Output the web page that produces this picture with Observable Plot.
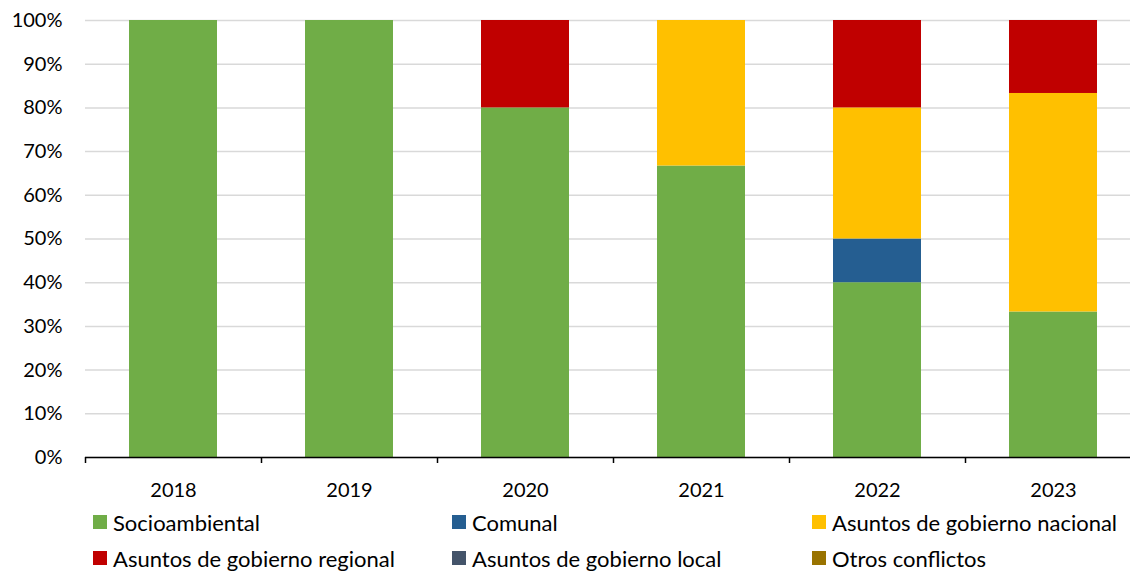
<!DOCTYPE html>
<html>
<head>
<meta charset="utf-8">
<script src="https://cdn.jsdelivr.net/npm/d3@7"></script>
<script src="https://cdn.jsdelivr.net/npm/@observablehq/plot@0.6"></script>
<style>
  html, body { margin: 0; padding: 0; background: #fff; overflow: hidden; }
  body { width: 1130px; height: 571px; font-family: Lato, "Open Sans", sans-serif; }
  #chart { width: 1130px; overflow: hidden; }
  #chart svg { display: block; max-width: none !important; }
  #legend {
    display: grid;
    grid-template-columns: 359px 360px 320px;
    row-gap: 14px;
    padding-left: 93px;
    margin-top: 11px;
    font-size: 22px;
    color: #000;
  }
  .item { display: flex; align-items: center; height: 22px; white-space: nowrap; }
  .sw { width: 14px; height: 14px; margin-right: 6px; flex: none; }
</style>
</head>
<body>
<div id="chart"></div>
<div id="legend"></div>
<script>
const years = ["2018", "2019", "2020", "2021", "2022", "2023"];
const categories = [
  "Socioambiental",
  "Comunal",
  "Asuntos de gobierno nacional",
  "Asuntos de gobierno regional",
  "Asuntos de gobierno local",
  "Otros conflictos"
];
const colors = ["#70AD47", "#255E91", "#FFC000", "#C00000", "#44546A", "#997300"];

// share of conflicts (%) per year
const socioambiental = [100, 100, 80, 66.7, 40, 33.3];
const comunal        = [0, 0, 0, 0, 10, 0];
const nacional       = [0, 0, 0, 33.3, 30, 50];
const regional       = [0, 0, 20, 0, 20, 16.7];
const local          = [0, 0, 0, 0, 0, 0];
const otros          = [0, 0, 0, 0, 0, 0];
const yTicks = [0, 10, 20, 30, 40, 50, 60, 70, 80, 90, 100];

const series = [socioambiental, comunal, nacional, regional, local, otros];
const data = [];
years.forEach((yr, i) => {
  categories.forEach((c, j) => {
    data.push({year: yr, category: c, value: series[j][i]});
  });
});

const chart = Plot.plot({
  width: 1145,
  height: 500,
  marginLeft: 85,
  marginRight: 4,
  marginTop: 20,
  marginBottom: 43,
  style: {fontFamily: "Lato, 'Open Sans', sans-serif", fontSize: "20px", color: "#000", background: "#fff", maxWidth: "none"},
  x: {domain: years, paddingInner: 0.5, paddingOuter: 0.25, label: null},
  y: {domain: [0, 100], label: null},
  color: {domain: categories, range: colors},
  marks: [
    Plot.gridY(yTicks, {stroke: "#d9d9d9", strokeOpacity: 1, strokeWidth: 1.5}),
    Plot.barY(data, {x: "year", y: "value", fill: "category", order: categories}),
    Plot.ruleY([0], {stroke: "#000", strokeWidth: 1.5}),
    Plot.ruleX(years, {x: d => d, y1: 0, y2: 0, dx: -88, insetBottom: -6, stroke: "#000", strokeWidth: 1.5}),
    Plot.axisY(yTicks, {tickSize: 0, tickPadding: 23, tickFormat: d => d + "%", fontSize: 20}),
    Plot.axisX({tickSize: 0, tickPadding: 25, fontSize: 20})
  ]
});
document.getElementById("chart").appendChild(chart);

const legendOrder = [0, 1, 2, 3, 4, 5];
const legend = d3.select("#legend");
legendOrder.forEach(j => {
  const it = legend.append("div").attr("class", "item");
  it.append("div").attr("class", "sw").style("background", colors[j]);
  it.append("span").text(categories[j]);
});
</script>
</body>
</html>
